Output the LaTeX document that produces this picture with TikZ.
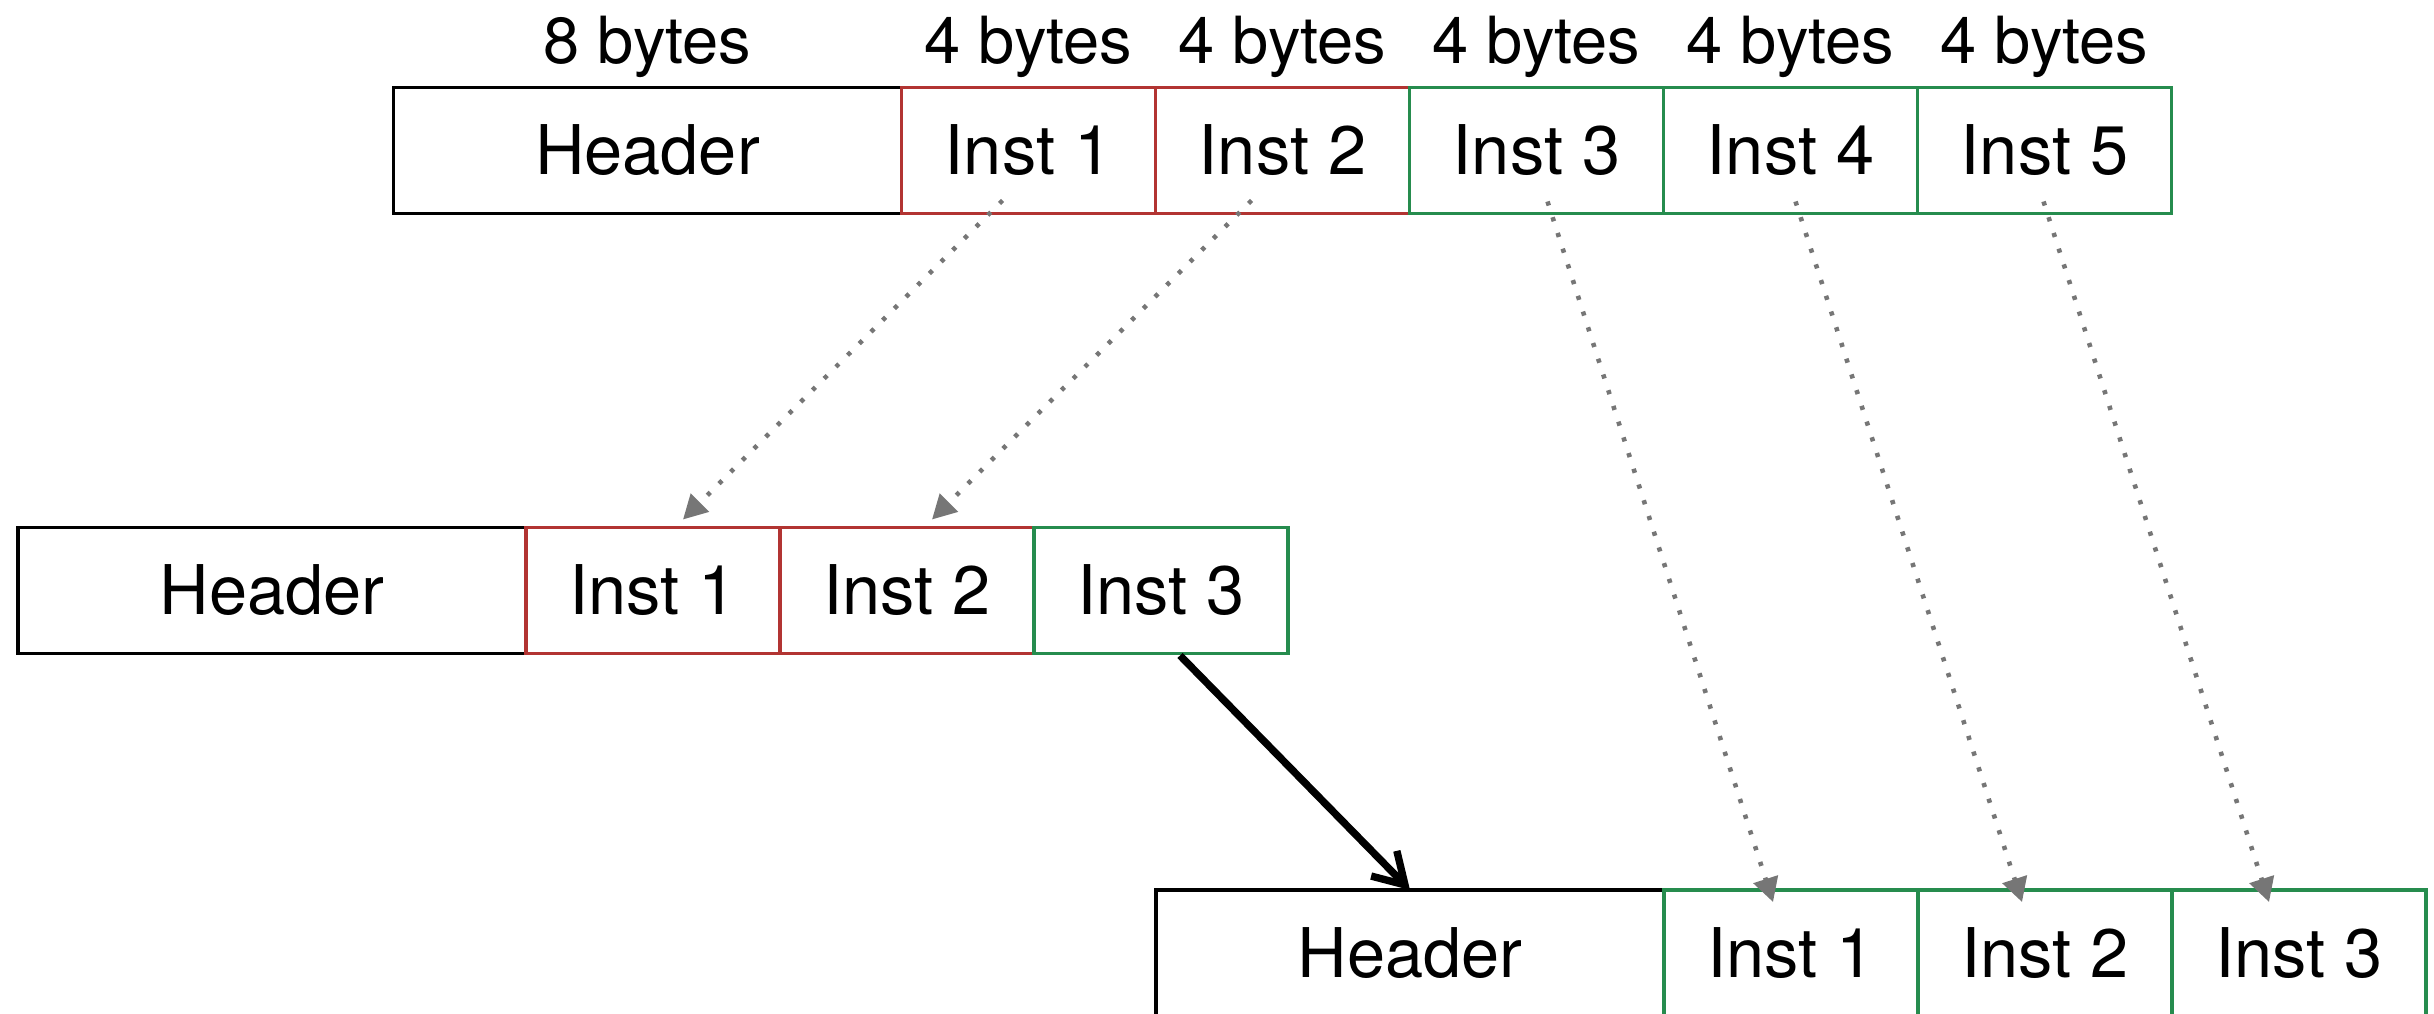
\documentclass[tikz,border=0pt]{standalone}
\usepackage{fontspec}
\setmainfont{TeX Gyre Heros}
\usetikzlibrary{positioning,arrows.meta}

\definecolor{oldred}{RGB}{178,52,50}
\definecolor{newgreen}{RGB}{38,140,78}
\definecolor{dotgray}{RGB}{118,118,118}

\begin{document}
\begin{tikzpicture}[
    cell/.style={draw, line width=0.9pt, minimum height=1.26cm, outer sep=0pt, inner sep=0pt,
                 font=\fontsize{19.5}{22}\selectfont},
    hdr/.style={cell, minimum width=5.08cm},
    oldinst/.style={cell, draw=oldred, minimum width=2.54cm},
    newinst/.style={cell, draw=newgreen, minimum width=2.54cm},
    sizelbl/.style={anchor=base, font=\fontsize{18.5}{22}\selectfont},
    copyarr/.style={-{Triangle[length=2.4mm,width=2.5mm]}, dotgray, line width=1.3pt,
                    dash pattern=on 1.2pt off 3.5pt},
    movearr/.style={-{Straight Barb[length=3mm,width=3.6mm]}, line width=2.1pt}
]
    \useasboundingbox (0,0) rectangle (24.34,10.13);

    % Bloc d'origine : en-tete + 5 instructions
    \node[hdr] (th) at (6.475,8.625) {Header};
    \node[oldinst, right=0pt of th] (t1) {Inst 1};
    \node[oldinst, right=0pt of t1] (t2) {Inst 2};
    \node[newinst, right=0pt of t2] (t3) {Inst 3};
    \node[newinst, right=0pt of t3] (t4) {Inst 4};
    \node[newinst, right=0pt of t4] (t5) {Inst 5};

    % Tailles au-dessus
    \node[sizelbl] (lh) at ([yshift=2.4mm]th.north) {8 bytes};
    \foreach \i in {1,...,5}
        \node[sizelbl] (l\i) at ([yshift=2.4mm]t\i.north) {4 bytes};

    % Premier bloc apres coupure
    \node[hdr] (mh) at (2.72,4.225) {Header};
    \node[oldinst, right=0pt of mh] (m1) {Inst 1};
    \node[oldinst, right=0pt of m1] (m2) {Inst 2};
    \node[newinst, right=0pt of m2] (m3) {Inst 3};

    % Second bloc
    \node[hdr] (bh) at (14.10,0.60) {Header};
    \node[newinst, right=0pt of bh] (b1) {Inst 1};
    \node[newinst, right=0pt of b1] (b2) {Inst 2};
    \node[newinst, right=0pt of b2] (b3) {Inst 3};

    % Copie des instructions
    \draw[copyarr] ([xshift=-2.6mm,yshift=1.3mm]t1.south) -- ([xshift=3mm,yshift=0.8mm]m1.north);
    \draw[copyarr] ([xshift=-3.1mm,yshift=1.3mm]t2.south) -- ([xshift=2.5mm,yshift=0.8mm]m2.north);
    \draw[copyarr] ([xshift=1.1mm,yshift=1.2mm]t3.south) -- ([xshift=-1.8mm,yshift=-1.2mm]b1.north);
    \draw[copyarr] ([xshift=0.5mm,yshift=1.2mm]t4.south) -- ([xshift=-2.3mm,yshift=-1.2mm]b2.north);
    \draw[copyarr] ([xshift=-0.1mm,yshift=1.2mm]t5.south) -- ([xshift=-3mm,yshift=-1.2mm]b3.north);

    % Chainage vers le bloc suivant
    \draw[movearr] ([xshift=1.9mm,yshift=-0.2mm]m3.south) -- (bh.north);
\end{tikzpicture}
\end{document}
